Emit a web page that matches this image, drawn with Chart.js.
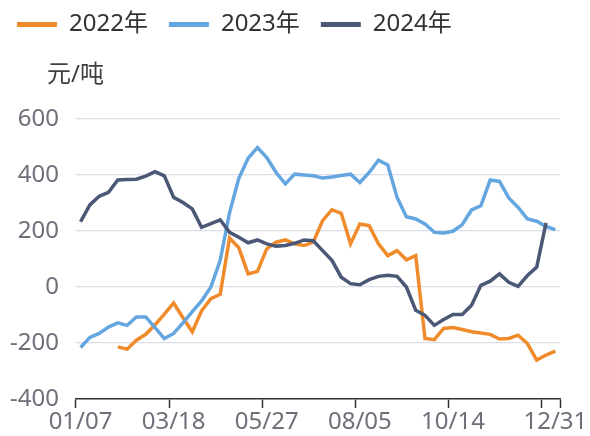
<!DOCTYPE html>
<html>
<head>
<meta charset="utf-8">
<script src="https://cdn.jsdelivr.net/npm/chart.js@4.4.1/dist/chart.umd.min.js"></script>
<style>
html,body{margin:0;padding:0;background:#ffffff;}
#wrap{width:590px;height:436px;}
</style>
</head>
<body>
<div id="wrap"><canvas id="c" width="590" height="436"></canvas></div>
<script>
// ---- data ----
const categories = [
  '01/07','01/14','01/21','01/28','02/04','02/11','02/18','02/25','03/04','03/11',
  '03/18','03/25','04/01','04/08','04/15','04/22','04/29','05/06','05/13','05/20',
  '05/27','06/03','06/10','06/17','06/24','07/01','07/08','07/15','07/22','07/29',
  '08/05','08/12','08/19','08/26','09/02','09/09','09/16','09/23','09/30','10/07',
  '10/14','10/21','10/28','11/04','11/11','11/18','11/25','12/02','12/09','12/16',
  '12/23','12/31'
];
const tickLabels = ['01/07','03/18','05/27','08/05','10/14','12/31'];
const seriesNames = ['2022年','2023年','2024年'];
const values2022 = [
  null, null, null, null, -214, -222, -190, -169, -135, -97,
  -57, -110, -160, -85, -42, -26, 175, 140, 47, 56,
  136, 160, 168, 154, 148, 160, 237, 276, 263, 154,
  225, 219, 154, 112, 130, 97, 112, -184, -188, -148,
  -145, -152, -160, -164, -169, -186, -184, -172, -202, -261,
  -243, -229
];
const values2023 = [
  -216, -180, -166, -143, -128, -137, -107, -107, -145, -184,
  -166, -128, -88, -50, 0, 95, 265, 388, 460, 498,
  462, 409, 368, 403, 400, 397, 389, 393, 398, 403,
  373, 409, 453, 436, 320, 251, 243, 225, 195, 193,
  199, 223, 275, 290, 382, 377, 318, 284, 243, 235,
  216, 205
];
const values2024 = [
  233, 293, 324, 338, 382, 384, 385, 396, 412, 397,
  320, 302, 279, 213, 226, 240, 195, 178, 158, 168,
  154, 146, 148, 156, 168, 165, 130, 95, 35, 12,
  8, 26, 38, 42, 38, 0, -83, -101, -137, -116,
  -98, -98, -65, 6, 21, 47, 17, 2, 41, 71,
  229, null
];
const yTicks = [-400, -200, 0, 200, 400, 600];
const unitLabel = '元/吨';

// ---- styles ----
const colors = ['#f08b2c', '#64a6df', '#4a5875'];
const FONT = '"Noto Sans", "Noto Sans CJK SC", sans-serif';
Chart.defaults.font.family = FONT;

const seriesValues = [values2022, values2023, values2024];
const datasets = seriesNames.map((name, i) => ({
  label: name,
  data: seriesValues[i],
  borderColor: colors[i],
  backgroundColor: colors[i],
  borderWidth: 3.5,
  pointRadius: 0,
  pointHoverRadius: 0,
  tension: 0,
  fill: false,
  spanGaps: false,
  order: 2 - i
}));

const tweak = {
  id: 'tweak',
  afterLayout(chart) {
    const lg = chart.legend;
    const dx = -4 - lg.left;
    const dy = -8.5 - lg.top;
    lg.left += dx; lg.right += dx;
    lg.top += dy; lg.bottom += dy;
  },
  afterDraw(chart) {
    const ctx = chart.ctx;
    const a = chart.chartArea;
    ctx.save();
    ctx.font = '24px ' + FONT;
    ctx.fillStyle = '#3f3f3f';
    ctx.textAlign = 'center';
    ctx.textBaseline = 'middle';
    ctx.fillText(unitLabel, a.left - 0.5, 75);
    ctx.restore();
  }
};

const tickColor = (ctx) => {
  const i = ctx.index;
  return (i === undefined || i % 10 === 0) ? '#333333' : 'rgba(0,0,0,0)';
};

new Chart(document.getElementById('c'), {
  type: 'line',
  data: { labels: categories, datasets },
  options: {
    responsive: false,
    animation: false,
    devicePixelRatio: 1,
    layout: { padding: { left: 10, right: 30, top: 64, bottom: 0 } },
    plugins: {
      legend: {
        display: true,
        position: 'top',
        align: 'start',
        labels: {
          boxWidth: 40,
          boxHeight: 5,
          padding: 21,
          color: '#333333',
          font: { size: 24, family: FONT },
          sort: (a, b) => a.datasetIndex - b.datasetIndex,
          generateLabels(chart) {
            const items = Chart.defaults.plugins.legend.labels.generateLabels(chart);
            items.forEach(it => { it.lineWidth = 0; it.fillStyle = colors[it.datasetIndex]; });
            return items;
          }
        }
      },
      tooltip: { enabled: false },
      title: { display: false }
    },
    scales: {
      x: {
        type: 'category',
        offset: true,
        grid: {
          offset: true,
          drawOnChartArea: false,
          drawTicks: true,
          tickLength: 9,
          tickWidth: 1.5,
          color: tickColor,
          tickColor: tickColor
        },
        border: { display: true, color: '#333333', width: 1.5 },
        ticks: {
          autoSkip: false,
          maxRotation: 0,
          minRotation: 0,
          padding: 2,
          color: '#6e7079',
          font: { size: 24, lineHeight: 1 },
          callback(value) {
            const l = this.getLabelForValue(value);
            return tickLabels.includes(l) ? l : '';
          }
        }
      },
      y: {
        min: yTicks[0],
        max: yTicks[yTicks.length - 1],
        grid: { color: '#dcdee8', lineWidth: 1.2, drawTicks: false },
        border: { display: false },
        afterBuildTicks(scale) { scale.ticks = yTicks.map(v => ({ value: v })); },
        afterFit(scale) { scale.width -= scale.options.ticks.padding; },
        ticks: {
          padding: 17,
          color: '#6e7079',
          font: { size: 24, lineHeight: 1 }
        }
      }
    }
  },
  plugins: [tweak]
});
</script>
</body>
</html>
